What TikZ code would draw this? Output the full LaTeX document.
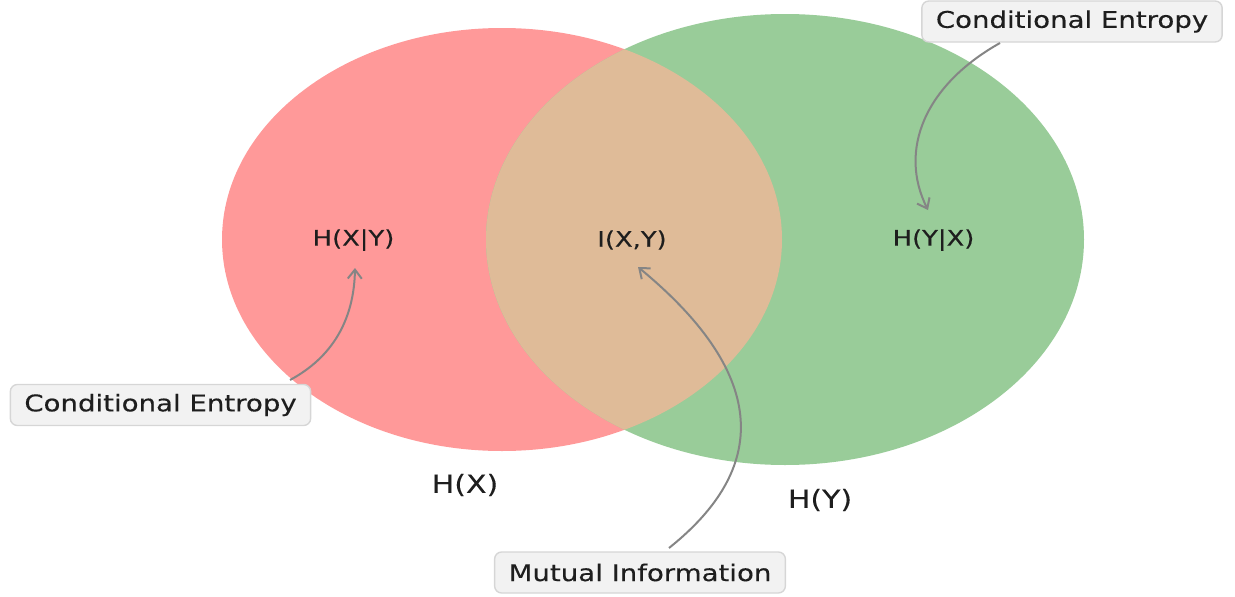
\documentclass[tikz,border=0pt]{standalone}
\usepackage{fontspec}
\setmainfont{DejaVu Sans}
\newfontfamily\widefont[FakeStretch=1.2, FakeBold=0.25]{DejaVu Sans}
\usetikzlibrary{arrows.meta}

\definecolor{setx}{HTML}{FF9999}
\definecolor{sety}{HTML}{99CC99}
\definecolor{setxy}{HTML}{DFBB98}
\definecolor{boxfill}{HTML}{F2F2F2}
\definecolor{boxline}{HTML}{D6D6D6}
\definecolor{pointer}{HTML}{858585}
\definecolor{ink}{HTML}{1E1E1E}

\tikzset{
  region/.style={text=ink, font=\widefont\fontsize{21.5}{26}\selectfont},
  setname/.style={text=ink, font=\widefont\fontsize{25}{30}\selectfont},
  callout/.style={draw=boxline, line width=1.4pt, fill=boxfill, rounded corners=7pt,
    text=ink, font=\widefont\fontsize{23}{27}\selectfont,
    inner xsep=14pt, minimum height=41pt},
  pointto/.style={draw=pointer, line width=2pt,
    -{Straight Barb[length=9pt, width=14pt, line width=2pt]}}
}

\begin{document}
\begin{tikzpicture}[x=1pt, y=-1pt]
  \useasboundingbox (0,0) rectangle (1235,597);

  % the two entropy sets and their overlap
  \fill[setx] (502,239.5) ellipse [x radius=280, y radius=211.5];
  \fill[sety] (785,239.5) ellipse [x radius=299, y radius=225.5];
  \begin{scope}
    \clip (502,239.5) ellipse [x radius=280, y radius=211.5];
    \fill[setxy] (785,239.5) ellipse [x radius=299, y radius=225.5];
  \end{scope}

  % region labels
  \node[region] (hxy) at (353.5,240) {H(X|Y)};
  \node[region] (ixy) at (632,240) {I(X,Y)};
  \node[region] (hyx) at (933.5,240) {H(Y|X)};

  % set names
  \node[setname] (hx) at (465,485) {H(X)};
  \node[setname] (hy) at (820,500) {H(Y)};

  % callout boxes
  \node[callout] (ceright) at (1072,21.5) {Conditional Entropy};
  \node[callout] (celeft) at (160.5,405) {Conditional Entropy};
  \node[callout] (mi) at (640,572.5) {Mutual Information};

  % pointer ends
  \coordinate (tipright) at (928,210);
  \coordinate (tipleft) at (355,268);
  \coordinate (tipmid) at (638,267);
  \coordinate (srcright) at (1000,43);
  \coordinate (srcleft) at (290,380);
  \coordinate (srcmid) at (669,548);

  % curved pointers
  \draw[pointto] (srcright) .. controls (925,85) and (898,150) .. (tipright);
  \draw[pointto] (srcleft) .. controls (332.3,357.3) and (354,320) .. (tipleft);
  \draw[pointto] (srcmid) .. controls (774,464.3) and (763.7,370.7) .. (tipmid);
\end{tikzpicture}
\end{document}
